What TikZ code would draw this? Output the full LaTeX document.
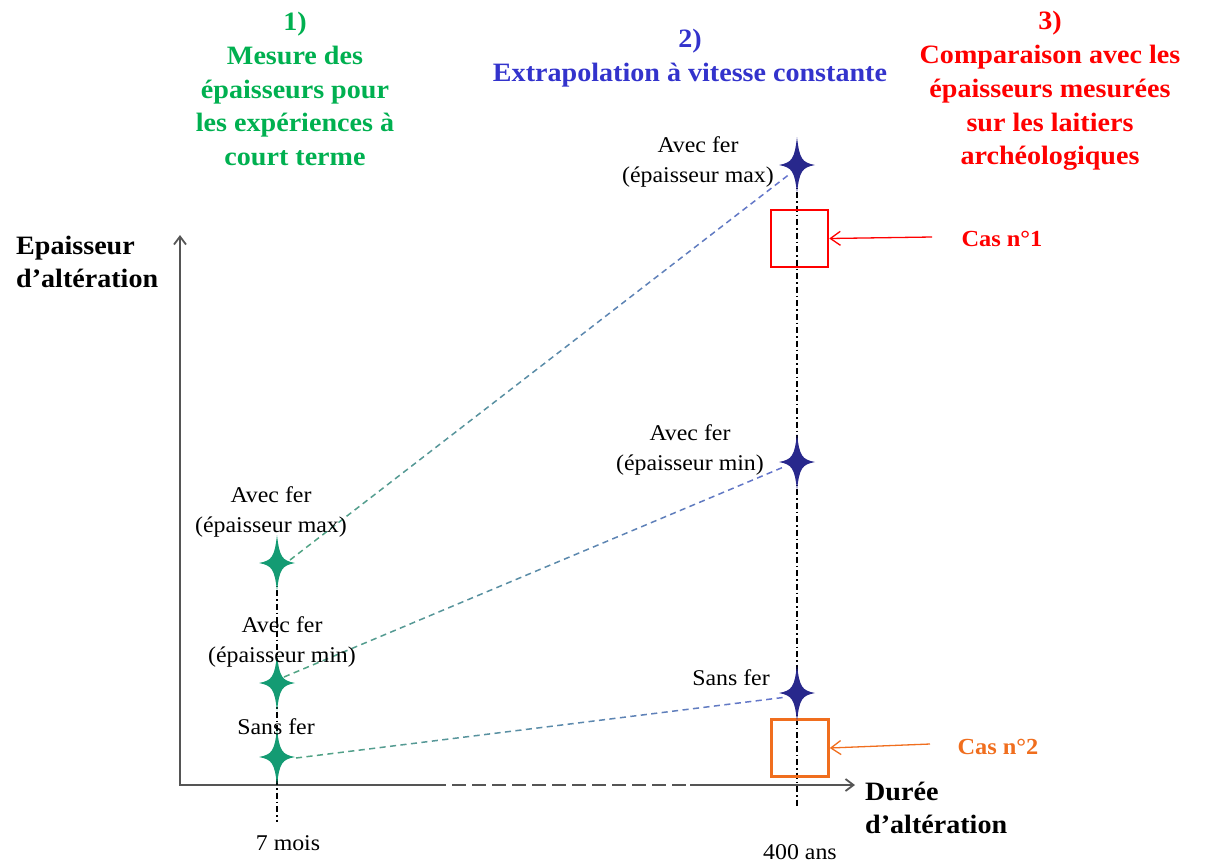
\documentclass[tikz,border=0pt]{standalone}
\usepackage{fontspec}
\setmainfont[FakeStretch=1.06]{Liberation Serif}
\usetikzlibrary{arrows.meta,calc}
\definecolor{tgreen}{RGB}{0,176,80}
\definecolor{tblue}{RGB}{51,51,204}
\definecolor{tred}{RGB}{255,0,0}
\definecolor{torange}{RGB}{240,110,30}
\definecolor{sgreen}{RGB}{20,155,115}
\definecolor{sblue}{RGB}{40,40,140}
\definecolor{lgreen}{RGB}{80,165,130}
\definecolor{lblue}{RGB}{100,115,205}
\definecolor{axisgray}{RGB}{85,85,85}
\newcommand\gradline[3]{%
  \foreach \i in {1,...,#3}{%
    \pgfmathsetmacro\pp{100*(\i-0.5)/#3}%
    \pgfmathsetmacro\aa{(\i-1)/#3}%
    \pgfmathsetmacro\bb{(\i-0.42)/#3}%
    \draw[line width=1.5pt, color=lblue!\pp!lgreen] ($(#1)!\aa!(#2)$) -- ($(#1)!\bb!(#2)$);
  }%
}
\tikzset{
  star4/.pic={\fill[pic actions] (0,-28) .. controls (2.5,-6) and (5,-2.5) .. (18,0) .. controls (5,2.5) and (2.5,6) .. (0,28) .. controls (-2.5,6) and (-5,2.5) .. (-18,0) .. controls (-5,-2.5) and (-2.5,-6) .. cycle;},
  starnode/.style={inner sep=0pt, minimum size=2pt},
  lbl/.style={font=\fontsize{22.5}{29.5}\selectfont, align=center, inner sep=0pt},
  ttl/.style={font=\bfseries\fontsize{26.5}{33.8}\selectfont, align=center, inner sep=0pt},
  axlbl/.style={font=\bfseries\fontsize{26.5}{32.5}\selectfont, align=left, inner sep=0pt, anchor=west},
  cas/.style={font=\bfseries\fontsize{23}{28}\selectfont, inner sep=0pt},
  axis/.style={draw=axisgray, line width=1.8pt},
  dashdotline/.style={draw=black, line width=1.2pt, dash pattern=on 6pt off 3pt on 1.5pt off 3pt},
  boxstyle/.style={line width=2.5pt, minimum width=57pt, minimum height=57pt, inner sep=0pt},
  casarrow/.style={line width=1.3pt, -{Straight Barb[length=10pt,width=14pt]}},
}
\begin{document}
\begin{tikzpicture}[x=1pt,y=-1pt]
\useasboundingbox (0,0) rectangle (1208,863);
% titles
\node[ttl, text=tgreen] (t1) at (295,89) {1)\\Mesure des\\épaisseurs pour\\les expériences à\\court terme};
\node[ttl, text=tblue] (t2) at (690,58) {2)\\Extrapolation à vitesse constante};
\node[ttl, text=tred] (t3) at (1050,91) {3)\\Comparaison avec les\\épaisseurs mesurées\\sur les laitiers\\archéologiques};
% axis labels
\node[axlbl] (ylab) at (16,262) {Epaisseur\\d’altération};
\node[axlbl] (xlab) at (865,808) {Durée\\d’altération};
% axes
\coordinate (orig) at (180,785);
\coordinate (ytip) at (180,235);
\coordinate (xa) at (432,785);
\coordinate (xb) at (690,785);
\coordinate (xtip) at (855,785);
\draw[axis, {Straight Barb[length=8pt,width=12pt]}-] (ytip) -- (orig) -- (xa);
\draw[axis, dash pattern=on 14pt off 6pt] (xa) -- (xb);
\draw[axis, -{Straight Barb[length=8pt,width=12pt]}] (xb) -- (xtip);
% star positions
\node[starnode] (g1) at (277,563) {};
\node[starnode] (g2) at (277,683) {};
\node[starnode] (g3) at (277,757) {};
\node[starnode] (b1) at (797,165) {};
\node[starnode] (b2) at (797,462) {};
\node[starnode] (b3) at (797,693) {};
% vertical dash-dot lines
\coordinate (v1end) at (277,822);
\coordinate (v2end) at (797,806);
\draw[dashdotline] (g1.center) -- (v1end);
\draw[dashdotline] (b1.center) -- (v2end);
% boxes
\node[boxstyle, draw=tred] (box1) at (799.5,238.5) {};
\node[boxstyle, draw=torange] (box2) at (800,748) {};
% extrapolation lines
\coordinate (l1a) at (290,560);
\coordinate (l1b) at (791,173);
\coordinate (l2a) at (284,677);
\coordinate (l2b) at (786,466);
\coordinate (l3a) at (296,758);
\coordinate (l3b) at (787,697);
\gradline{l1a}{l1b}{62}
\gradline{l2a}{l2b}{52}
\gradline{l3a}{l3b}{47}
% stars
\pic[fill=sgreen] at (g1) {star4};
\pic[fill=sgreen] at (g2) {star4};
\pic[fill=sgreen] at (g3) {star4};
\pic[fill=sblue] at (b1) {star4};
\pic[fill=sblue] at (b2) {star4};
\pic[fill=sblue] at (b3) {star4};
% star labels
\node[lbl] (lg1) at (271,512) {Avec fer\\(épaisseur max)};
\node[lbl] (lg2) at (282,642) {Avec fer\\(épaisseur min)};
\node[lbl] (lg3) at (276,727) {Sans fer};
\node[lbl] (lb1) at (698,162) {Avec fer\\(épaisseur max)};
\node[lbl] (lb2) at (690,450) {Avec fer\\(épaisseur min)};
\node[lbl] (lb3) at (731,678) {Sans fer};
\node[lbl] (m7) at (288,843) {7 mois};
\node[lbl] (a400) at (800,852) {400 ans};
% cases
\node[cas, text=tred] (cas1) at (1002,239) {Cas n°1};
\node[cas, text=torange] (cas2) at (998,747) {Cas n°2};
\coordinate (c1s) at (932,237);
\coordinate (c2s) at (930,744);
\draw[casarrow, draw=tred] (c1s) -- (box1.east);
\draw[casarrow, draw=torange] (c2s) -- (box2.east);
\end{tikzpicture}
\end{document}
